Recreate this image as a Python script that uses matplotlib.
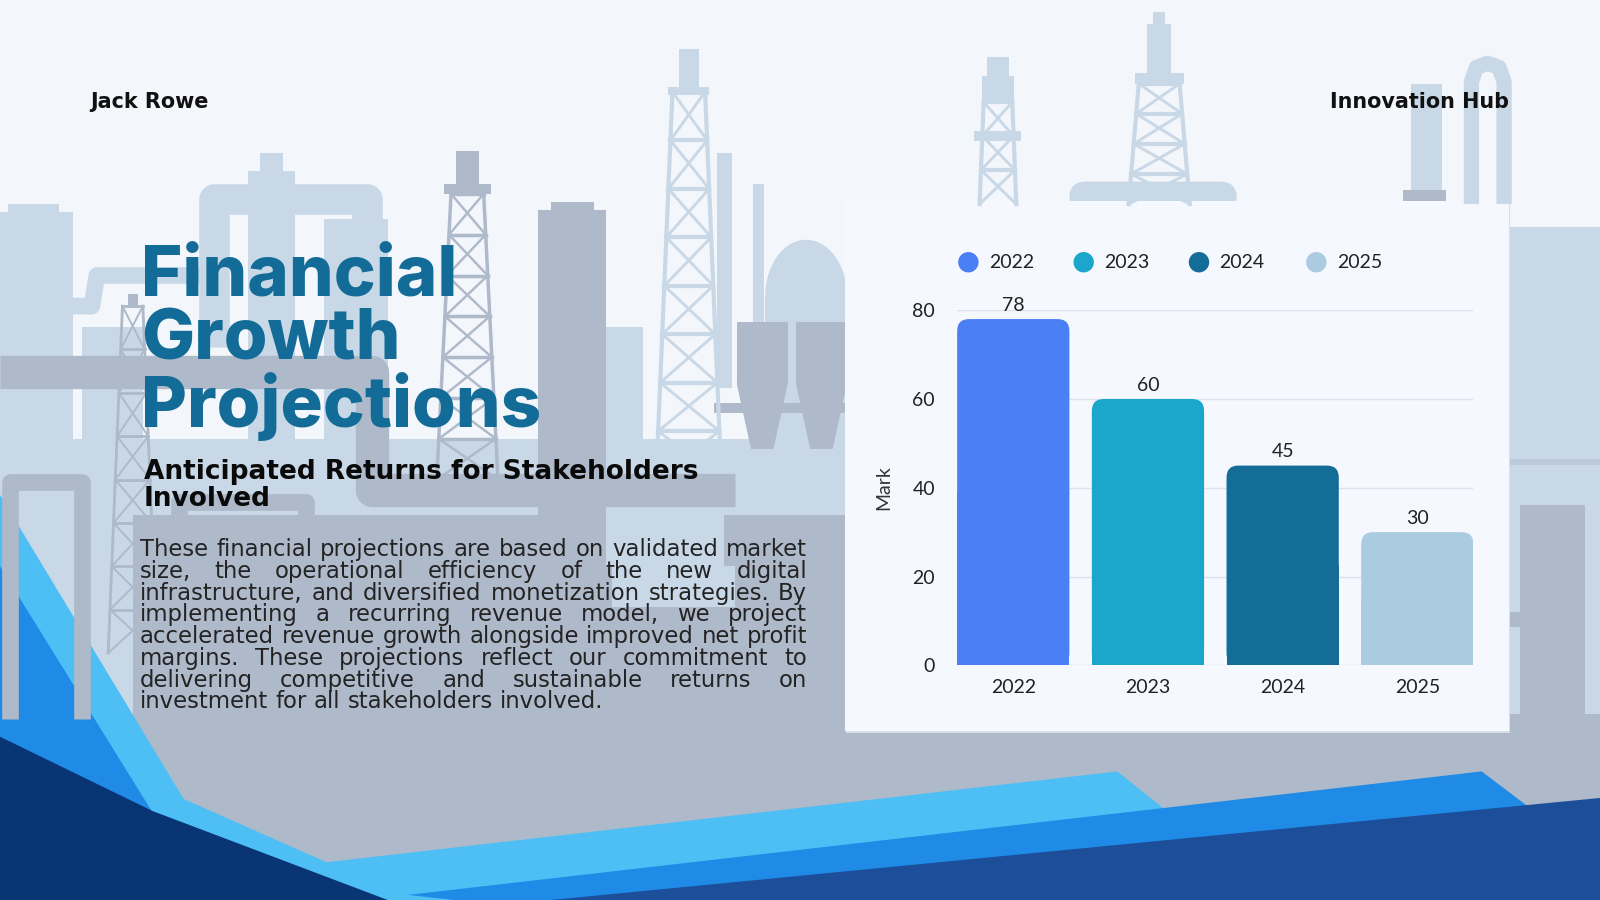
import numpy as np
import matplotlib.pyplot as plt
from matplotlib.patches import Rectangle, Polygon, FancyBboxPatch, Ellipse

# data
years = ['2022', '2023', '2024', '2025']
marks = [78, 60, 45, 30]
bar_colors = ['#4A7FF5', '#1BA7CC', '#146D96', '#AACBE0']
y_ticks = [0, 20, 40, 60, 80]

title_lines = ['Financial', 'Growth', 'Projections']
subtitle_lines = ['Anticipated Returns for Stakeholders', 'Involved']
body_lines = [
    'These financial projections are based on validated market',
    'size, the operational efficiency of the new digital',
    'infrastructure, and diversified monetization strategies. By',
    'implementing a recurring revenue model, we project',
    'accelerated revenue growth alongside improved net profit',
    'margins. These projections reflect our commitment to',
    'delivering competitive and sustainable returns on',
    'investment for all stakeholders involved.',
]

# slide coordinates (pixels of the reference, y down)
W, H = 1568, 882
BG = '#F3F6FB'
LIGHT = '#C9D8E7'
DARK = '#AEB9CA'

fig = plt.figure(figsize=(16, 9), dpi=100)
fig.patch.set_facecolor(BG)
bg = fig.add_axes([0, 0, 1, 1])
bg.set_xlim(0, W)
bg.set_ylim(H, 0)
bg.axis('off')
sx = 1600 / W
renderer = fig.canvas.get_renderer()


def rect(x, y, w, h, c):
    bg.add_patch(Rectangle((x, y), w, h, color=c, lw=0))


def pipe(pts, c, lw):
    xs, ys = zip(*pts)
    bg.plot(xs, ys, color=c, lw=lw, solid_joinstyle='round', solid_capstyle='butt')


def derrick(cx, top, bot, wt, wb, c, lw=2.5, n=6):
    bg.plot([cx - wt, cx - wb], [top, bot], color=c, lw=lw)
    bg.plot([cx + wt, cx + wb], [top, bot], color=c, lw=lw)
    ys = np.linspace(top, bot, n + 1)
    for i in range(n):
        y0, y1 = ys[i], ys[i + 1]
        w0 = wt + (wb - wt) * (y0 - top) / (bot - top)
        w1 = wt + (wb - wt) * (y1 - top) / (bot - top)
        bg.plot([cx - w0, cx + w0], [y0, y0], color=c, lw=lw)
        bg.plot([cx - w0, cx + w1], [y0, y1], color=c, lw=lw * 0.7)
        bg.plot([cx + w0, cx - w1], [y0, y1], color=c, lw=lw * 0.7)


def width_of(s, **kw):
    t = bg.text(0, 0, s, **kw)
    w = t.get_window_extent(renderer).width / sx
    t.remove()
    return w


def fit(s, target, base=20, **kw):
    return base * target / width_of(s, fontsize=base, **kw)


# ---- industrial silhouette (decoration) ----
rect(0, 208, 72, 500, LIGHT)
rect(8, 200, 50, 12, LIGHT)
pipe([(60, 300), (90, 300), (95, 270), (200, 270)], LIGHT, 12)
pipe([(210, 340), (210, 195), (360, 195), (360, 340)], LIGHT, 22)
rect(255, 150, 22, 22, LIGHT)
rect(243, 168, 46, 540, LIGHT)
rect(318, 215, 62, 490, LIGHT)
rect(80, 320, 60, 380, LIGHT)
rect(665, 48, 20, 40, LIGHT)
rect(655, 85, 40, 8, LIGHT)
derrick(675, 90, 470, 16, 32, LIGHT, lw=3, n=8)
rect(703, 150, 14, 230, LIGHT)
rect(738, 180, 11, 270, LIGHT)
bg.add_patch(Ellipse((790, 290), 80, 110, color=LIGHT, lw=0))
rect(750, 290, 78, 420, LIGHT)
rect(590, 320, 40, 380, LIGHT)
# right side towers behind card
rect(967, 56, 22, 20, LIGHT)
rect(962, 74, 32, 28, LIGHT)
rect(955, 128, 46, 10, LIGHT)
derrick(978, 100, 200, 14, 18, LIGHT, lw=3, n=3)
rect(1130, 12, 12, 14, LIGHT)
rect(1124, 24, 24, 48, LIGHT)
rect(1112, 72, 48, 10, LIGHT)
derrick(1136, 82, 200, 20, 30, LIGHT, lw=3, n=4)
bg.add_patch(FancyBboxPatch((1048, 178), 164, 30, boxstyle='round,pad=0,rounding_size=16',
                            color=LIGHT, lw=0))
rect(1383, 82, 30, 115, LIGHT)
pipe([(1442, 200), (1442, 80), (1447, 66), (1458, 62), (1469, 66), (1474, 80), (1474, 200)], LIGHT, 11)
rect(1375, 186, 42, 12, DARK)
# right edge
rect(1480, 222, 88, 480, LIGHT)
pipe([(1480, 232), (1530, 232), (1530, 290)], LIGHT, 14)
rect(1480, 450, 88, 6, '#BCCADB')
rect(1490, 495, 63, 210, DARK)
rect(1480, 600, 10, 14, DARK)

# lower left block
rect(0, 430, 830, 275, LIGHT)
pipe([(0, 365), (365, 365), (365, 480), (720, 480)], DARK, 24)
rect(130, 505, 700, 200, DARK)
rect(560, 500, 150, 55, LIGHT)
rect(600, 555, 120, 40, LIGHT)
pipe([(10, 705), (10, 472), (80, 472), (80, 705)], DARK, 12)
pipe([(175, 520), (175, 492), (300, 492), (300, 520)], DARK, 12)
rect(540, 198, 42, 10, DARK)
rect(527, 206, 67, 500, DARK)
rect(447, 148, 22, 36, DARK)
rect(435, 180, 46, 10, DARK)
derrick(458, 190, 470, 16, 30, DARK, lw=2.5, n=7)
derrick(130, 300, 640, 10, 24, DARK, lw=2, n=8)
rect(125, 288, 10, 14, DARK)
for hx in (722, 780):
    rect(hx, 316, 50, 60, DARK)
    bg.add_patch(Polygon([(hx, 376), (hx + 50, 376), (hx + 36, 440), (hx + 14, 440)], color=DARK, lw=0))
rect(700, 395, 130, 10, DARK)
rect(0, 700, W, 182, DARK)

# ---- bottom waves ----
bg.add_patch(Polygon([(0, 485), (180, 783), (320, 845), (1095, 756), (1140, 792),
                      (1140, H), (0, H)], color='#4DBFF5', lw=0))
bg.add_patch(Polygon([(0, 555), (150, 797), (0, 728)], color='#1F8BE6', lw=0))
bg.add_patch(Polygon([(400, 877), (1452, 756), (1497, 790), (W, 790), (W, H), (445, H)],
                     color='#1F8BE6', lw=0))
bg.add_patch(Polygon([(540, H), (W, 782), (W, H)], color='#1D4E9A', lw=0))
bg.add_patch(Polygon([(0, 722), (150, 795), (380, H), (0, H)], color='#0A3574', lw=0))

# ---- chart card ----
rect(829, 199, 651, 519, '#D9DFE8')
rect(828, 197, 651, 519, '#F5F8FE')

# ---- texts ----
HEAD = 'DejaVu Sans'
fs = fit('Jack Rowe', 116, family=HEAD, fontweight='bold')
bg.text(88, 100, 'Jack Rowe', fontsize=fs, fontweight='bold', family=HEAD,
        color='#111111', va='center', ha='left')
bg.text(1479, 100, 'Innovation Hub', fontsize=fs, fontweight='bold', family=HEAD,
        color='#111111', va='center', ha='right')

fs = fit('Projections', 392, family='Inter', fontweight='heavy')
bg.text(138, 418, '\n'.join(title_lines), fontsize=fs, fontweight='heavy', family='Inter',
        color='#136C97', va='baseline', ha='left', linespacing=0.97)

fs = fit(subtitle_lines[0], 545, family=HEAD, fontweight='bold')
bg.text(141, 496, '\n'.join(subtitle_lines), fontsize=fs, fontweight='bold', family=HEAD,
        color='#0A0A0A', va='baseline', ha='left', linespacing=1.08)

x0, x1 = 137, 791
fs = fit(body_lines[0], (x1 - x0) * 0.99, family=HEAD)
for i, line in enumerate(body_lines):
    yb = 545 + 21.3 * i
    words = line.split()
    tx = [bg.text(0, yb, w, fontsize=fs, family=HEAD,
                  color='#232323', va='baseline', ha='left') for w in words]
    widths = [t.get_window_extent(renderer).width / sx for t in tx]
    if i == len(body_lines) - 1:
        gap = width_of(' ', fontsize=fs, family=HEAD)
    else:
        gap = (x1 - x0 - sum(widths)) / (len(words) - 1)
    x = x0
    for t, w in zip(tx, widths):
        t.set_x(x)
        x += w + gap

# legend (custom, in slide coords)
leg_x = [949, 1062, 1175, 1290]
for lx, yr, c in zip(leg_x, years, bar_colors):
    bg.add_patch(Ellipse((lx, 257), 20, 20, color=c, lw=0))
    bg.text(lx + 20, 257, yr, fontsize=14, family='Lato', color='#222222',
            va='center', ha='left')

# ---- bar chart ----
ax_l, ax_r, ax_t, ax_b = 938, 1444, 304, 652
ax = fig.add_axes([ax_l / W, 1 - ax_b / H, (ax_r - ax_l) / W, (ax_b - ax_t) / H])
ax.patch.set_alpha(0)
xpos = np.arange(len(years))
bw = 110 / 132
ax.set_xlim(-bw / 2, len(years) - 1 + bw / 2)
ax.set_ylim(0, 80)
bars = ax.bar(xpos, marks, width=bw, color=bar_colors, zorder=3)

xpp = (ax.get_xlim()[1] - ax.get_xlim()[0]) / ((ax_r - ax_l) * sx)
ypp = 80 / ((ax_b - ax_t) * sx)
asp = ypp / xpp
r = 12 * xpp
for b, c in zip(bars, bar_colors):
    b.set_visible(False)
    bx, bwid, bh = b.get_x(), b.get_width(), b.get_height()
    ax.add_patch(FancyBboxPatch((bx, 0), bwid, bh, boxstyle=f'round,pad=0,rounding_size={r}',
                                mutation_aspect=asp, color=c, lw=0, zorder=3))
    ax.add_patch(Rectangle((bx, 0), bwid, bh / 2, color=c, lw=0, zorder=3))
    ax.text(bx + bwid / 2, bh + 1.2, f'{bh:g}', ha='center', va='bottom',
            fontsize=14, family='Lato', color='#222222')

ax.set_yticks(y_ticks)
ax.set_xticks(xpos)
ax.set_xticklabels(years)
ax.tick_params(length=0, labelsize=14, colors='#222222', pad=10)
ax.tick_params(axis='y', pad=16)
for lab in ax.get_xticklabels() + ax.get_yticklabels():
    lab.set_family('Lato')
ax.grid(axis='y', color='#DDE2EA', lw=1, zorder=0)
for s in ax.spines.values():
    s.set_visible(False)
ax.set_ylabel('Mark', fontsize=14, family='Lato', color='#333333', labelpad=14)

fig.savefig('out.png', dpi=100, facecolor=BG)
